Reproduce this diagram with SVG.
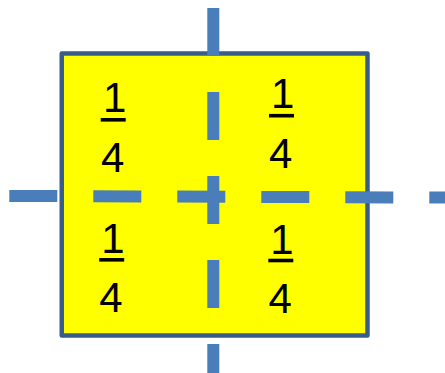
<svg xmlns="http://www.w3.org/2000/svg" width="445" height="373" viewBox="0 0 445 373">
  <style>
    .num { font-family: "Liberation Sans", Arial, sans-serif; font-size: 42px; fill: #000000; text-anchor: middle; }
    .ul { fill: #000000; }
    .dash { stroke: #4A7EBB; stroke-width: 12; stroke-dasharray: 48 36; stroke-linecap: butt; fill: none; }
  </style>
  <rect width="445" height="373" fill="#FFFFFF"/>
  <g id="square">
    <rect x="61.75" y="53.5" width="305.75" height="282" fill="#FFFF00" stroke="#385D8A" stroke-width="4.5" stroke-linejoin="round"/>
  </g>
  <g id="label-top-left">
    <text class="num" x="114.6" y="111.7">1</text>
    <rect class="ul" x="100.7" y="118" width="25" height="3.6"/>
    <text class="num" x="112.8" y="171.7">4</text>
  </g>
  <g id="label-top-right">
    <text class="num" x="282.6" y="107.7">1</text>
    <rect class="ul" x="269" y="113.9" width="25" height="3.6"/>
    <text class="num" x="280.8" y="168.3">4</text>
  </g>
  <g id="label-bottom-left">
    <text class="num" x="113" y="253.3">1</text>
    <rect class="ul" x="99.2" y="258" width="25" height="3.6"/>
    <text class="num" x="110.9" y="311.7">4</text>
  </g>
  <g id="label-bottom-right">
    <text class="num" x="282" y="254">1</text>
    <rect class="ul" x="268.3" y="258.7" width="25" height="3.6"/>
    <text class="num" x="280.2" y="313">4</text>
  </g>
  <g id="connectors">
    <line class="dash" x1="9.3" y1="195.9" x2="445" y2="197.6"/>
    <line class="dash" x1="213.3" y1="8" x2="213.3" y2="373"/>
  </g>
</svg>
